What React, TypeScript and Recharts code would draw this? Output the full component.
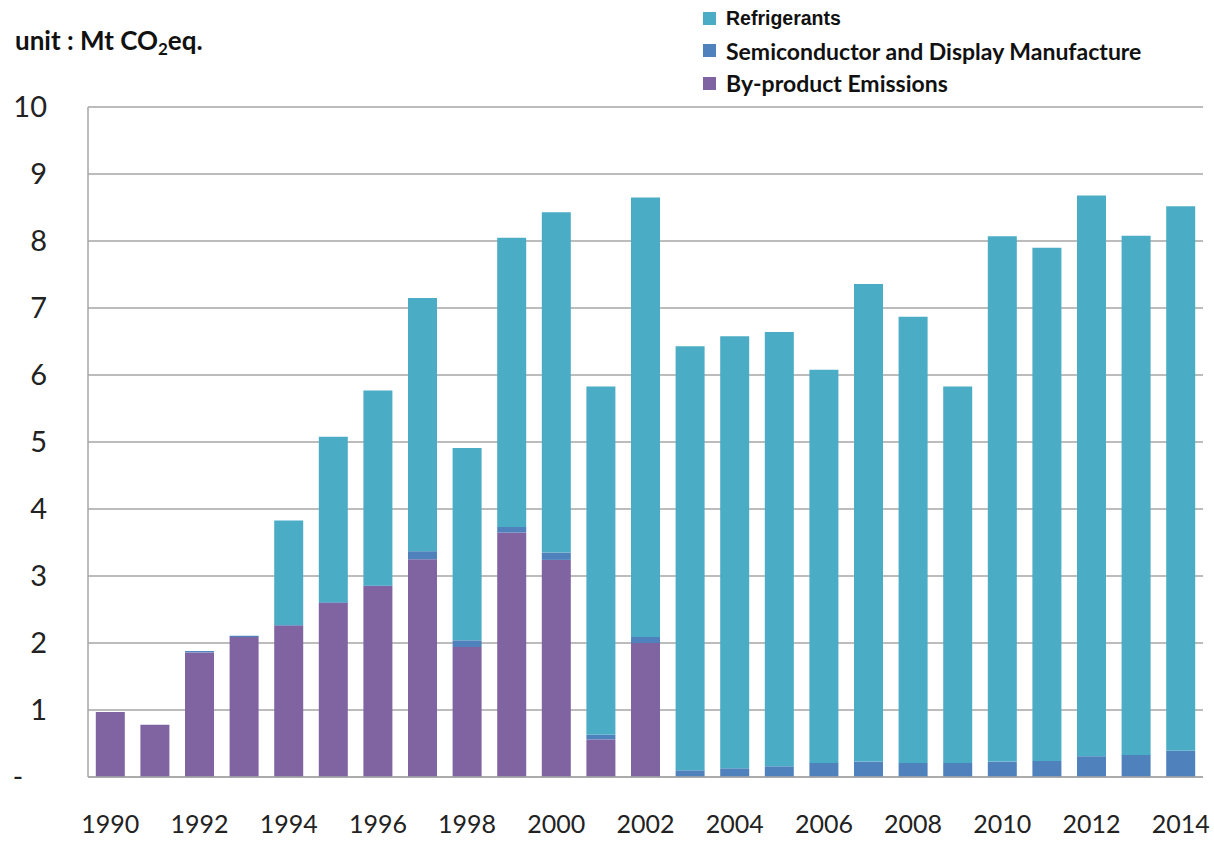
import { BarChart, Bar, XAxis, YAxis, CartesianGrid } from "recharts";

// values in Mt CO2eq.
const years = [
  "1990", "1991", "1992", "1993", "1994", "1995", "1996", "1997", "1998", "1999",
  "2000", "2001", "2002", "2003", "2004", "2005", "2006", "2007", "2008", "2009",
  "2010", "2011", "2012", "2013", "2014",
];
const byProduct = [
  0.97, 0.78, 1.86, 2.09, 2.26, 2.6, 2.85, 3.25, 1.94, 3.65,
  3.24, 0.56, 2.0, 0, 0, 0, 0, 0, 0, 0,
  0, 0, 0, 0, 0,
];
const semiconductor = [
  0, 0, 0.02, 0.02, 0.01, 0.01, 0.01, 0.12, 0.1, 0.08,
  0.11, 0.07, 0.09, 0.1, 0.13, 0.16, 0.21, 0.23, 0.21, 0.21,
  0.23, 0.24, 0.31, 0.33, 0.39,
];
const refrigerants = [
  0, 0, 0, 0, 1.56, 2.47, 2.91, 3.78, 2.87, 4.32,
  5.08, 5.2, 6.56, 6.33, 6.45, 6.48, 5.87, 7.13, 6.66, 5.62,
  7.84, 7.66, 8.37, 7.75, 8.13,
];
const yTicks = [0, 1, 2, 3, 4, 5, 6, 7, 8, 9, 10];

const COLORS = {
  refrigerants: "#4bacc6",
  semiconductor: "#4f81bd",
  byProduct: "#8064a2",
};

const data = years.map((year, i) => ({
  year,
  byProduct: byProduct[i],
  semiconductor: semiconductor[i],
  refrigerants: refrigerants[i],
}));

const legendItems = [
  { key: "refrigerants", label: "Refrigerants", font: "Arial, 'Liberation Sans', sans-serif", size: 19.5 },
  { key: "semiconductor", label: "Semiconductor and Display Manufacture", font: "Lato, sans-serif", size: 23 },
  { key: "byProduct", label: "By-product Emissions", font: "Lato, sans-serif", size: 23 },
] as const;

function LegendBox() {
  return (
    <div style={{ position: "absolute", left: 703, top: 2 }}>
      {legendItems.map((item) => (
        <div
          key={item.key}
          style={{ display: "flex", alignItems: "center", height: 32.5, whiteSpace: "nowrap" }}
        >
          <span
            style={{
              display: "inline-block",
              width: 13,
              height: 13,
              background: COLORS[item.key],
              marginRight: 10,
            }}
          />
          <span
            style={{
              fontFamily: item.font,
              fontSize: item.size,
              fontWeight: 700,
              color: "#111",
            }}
          >
            {item.label}
          </span>
        </div>
      ))}
    </div>
  );
}

function YTick(props: any) {
  const { x, y, payload } = props;
  if (payload.value === 0) {
    return (
      <text x={18} y={y} dy="0.35em" textAnchor="middle" fontSize={28} fill="#222" fontFamily="Lato, sans-serif">
        -
      </text>
    );
  }
  return (
    <text x={x} y={y} dy="0.35em" textAnchor="end" fontSize={29} fill="#222" fontFamily="Lato, sans-serif">
      {payload.value}
    </text>
  );
}

export default function App() {
  return (
    <div style={{ position: "absolute", left: 0, top: 0, width: 1214, height: 841, background: "#fff" }}>
      <div
        style={{
          position: "absolute",
          left: 15,
          top: 24,
          fontFamily: "Lato, sans-serif",
          fontWeight: 700,
          fontSize: 26,
          color: "#111",
          whiteSpace: "nowrap",
        }}
      >
        unit : Mt CO<sub style={{ fontSize: 17, verticalAlign: "-5px" }}>2</sub>eq.
      </div>
      <LegendBox />
      <BarChart
        width={1214}
        height={841}
        data={data}
        margin={{ top: 107, right: 11, bottom: 0, left: 0 }}
        barCategoryGap="17.5%"
      >
        <CartesianGrid vertical={false} stroke="#a6a6a6" strokeWidth={1.5} />
        <XAxis
          dataKey="year"
          interval={1}
          height={64}
          tickLine={false}
          tickSize={0}
          tickMargin={38}
          axisLine={{ stroke: "#a6a6a6", strokeWidth: 1.5 }}
          tick={{ fontSize: 25, fill: "#222", fontFamily: "Lato, sans-serif" }}
        />
        <YAxis
          width={88}
          domain={[0, 10]}
          ticks={yTicks}
          interval={0}
          tickLine={false}
          tickSize={0}
          tickMargin={41}
          axisLine={{ stroke: "#a6a6a6", strokeWidth: 1.5 }}
          tick={<YTick />}
        />
        <Bar dataKey="byProduct" stackId="a" fill={COLORS.byProduct} isAnimationActive={false} />
        <Bar dataKey="semiconductor" stackId="a" fill={COLORS.semiconductor} isAnimationActive={false} />
        <Bar dataKey="refrigerants" stackId="a" fill={COLORS.refrigerants} isAnimationActive={false} />
      </BarChart>
    </div>
  );
}
